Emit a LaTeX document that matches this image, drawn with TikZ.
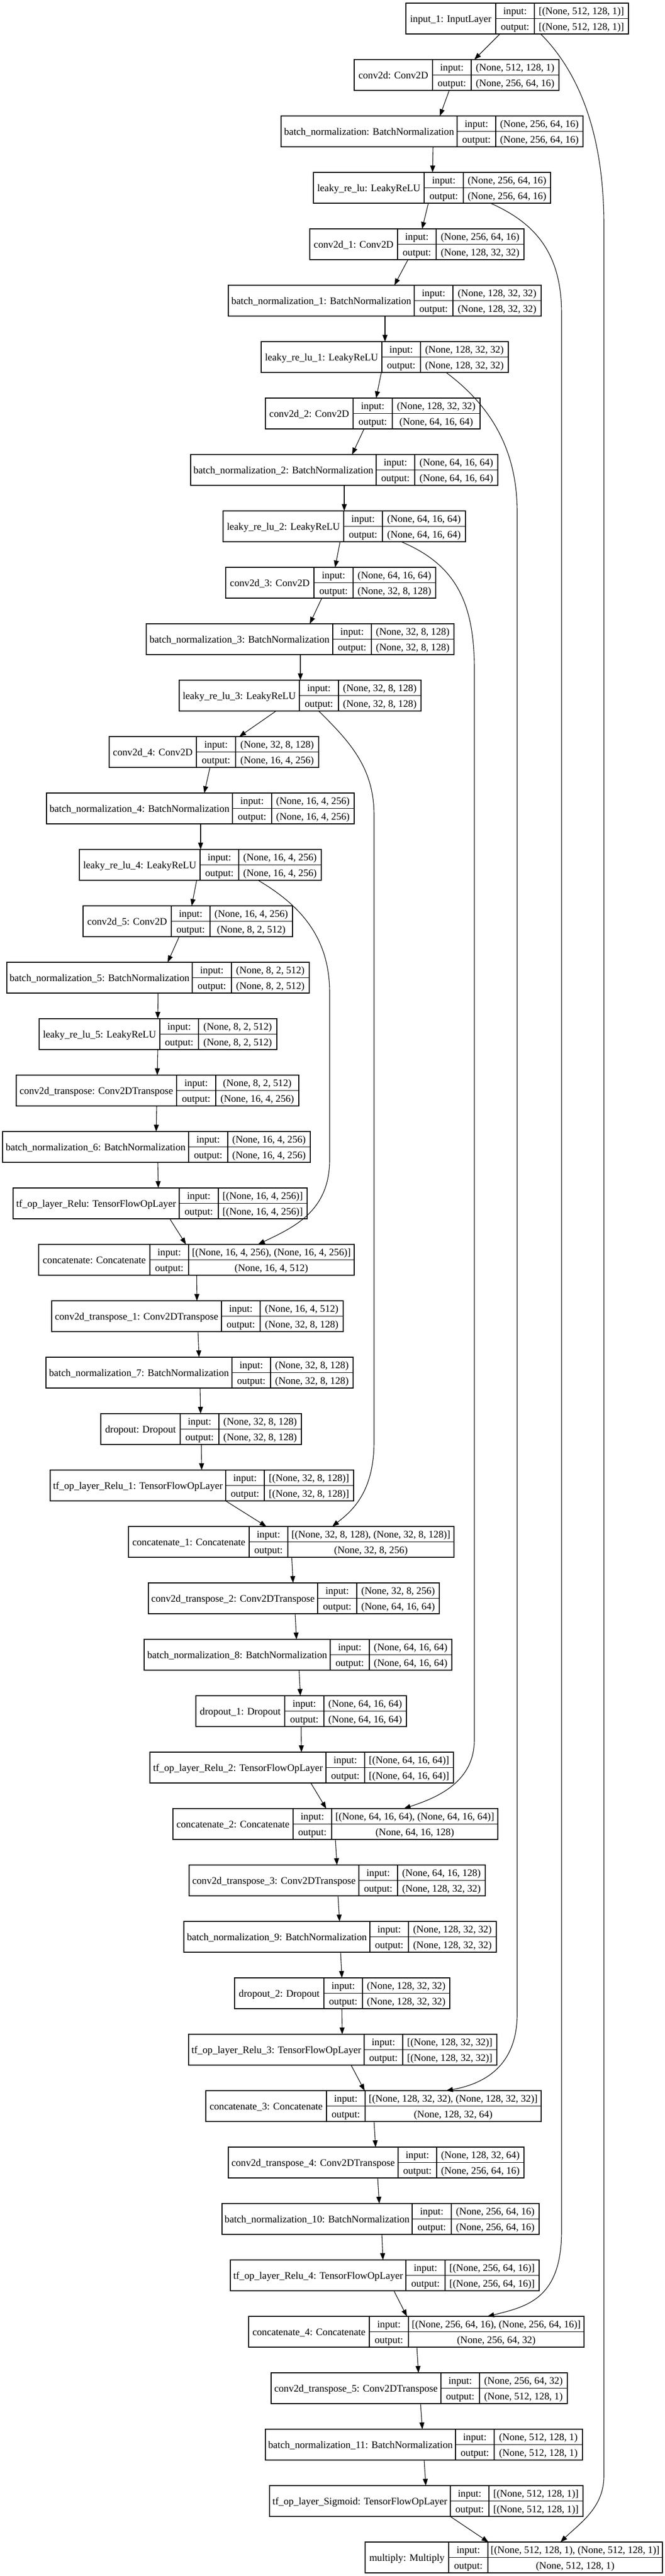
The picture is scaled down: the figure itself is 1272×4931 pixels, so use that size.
\documentclass[tikz,border=0pt]{standalone}
\usepackage{fontspec}
\setmainfont{Liberation Serif}
\usetikzlibrary{arrows.meta}
\tikzset{
  lbox/.style={draw, line width=1.3pt, inner sep=0pt, outer sep=0pt, minimum height=59pt},
  cellline/.style={line width=1.3pt},
  txt/.style={inner sep=0pt, text height=16pt, text depth=2pt, font=\fontsize{19.2}{23}\selectfont},
  arr/.style={line width=1.1pt, -{Triangle[length=13pt,width=9.5pt]}},
}
\newcommand\lyr[9]{%
  \pgfmathsetmacro\LyT{6+108*#2}%
  \pgfmathsetmacro\LyB{\LyT+59}%
  \pgfmathsetmacro\LyM{\LyT+29.5}%
  \pgfmathsetmacro\LyW{#6-#3}%
  \node[lbox, minimum width=\LyW pt, anchor=north west] (#1) at (#3,\LyT) {};
  \draw[cellline] (#4,\LyT) -- (#4,\LyB) (#5,\LyT) -- (#5,\LyB) (#4,\LyM) -- (#6,\LyM);
  \node[txt] (#1t) at ({(#3+#4)/2},\LyM) {#7};
  \node[txt] (#1a) at ({(#4+#5)/2},{\LyT+14.75}) {input:};
  \node[txt] (#1b) at ({(#4+#5)/2},{\LyT+44.25}) {output:};
  \node[txt] (#1c) at ({(#5+#6)/2},{\LyT+14.75}) {#8};
  \node[txt] (#1d) at ({(#5+#6)/2},{\LyT+44.25}) {#9};
}
\newcommand\edg[4]{\draw[arr] (#2,0 |- #1.south) -- (#4,0 |- #3.north);}
\begin{document}
\begin{tikzpicture}[x=1pt,y=-1pt]
\useasboundingbox[fill=white] (0,0) rectangle (1272,4931);
\lyr{n0}{0}{777}{949}{1023}{1203}{input\_1: InputLayer}{[(None, 512, 128, 1)]}{[(None, 512, 128, 1)]}
\lyr{n1}{1}{678}{828}{902}{1070}{conv2d: Conv2D}{(None, 512, 128, 1)}{(None, 256, 64, 16)}
\lyr{n2}{2}{538}{875}{949}{1116}{batch\_normalization: BatchNormalization}{(None, 256, 64, 16)}{(None, 256, 64, 16)}
\lyr{n3}{3}{600}{812}{887}{1054}{leaky\_re\_lu: LeakyReLU}{(None, 256, 64, 16)}{(None, 256, 64, 16)}
\lyr{n4}{4}{593}{761}{835}{1003}{conv2d\_1: Conv2D}{(None, 256, 64, 16)}{(None, 128, 32, 32)}
\lyr{n5}{5}{437}{793}{867}{1036}{batch\_normalization\_1: BatchNormalization}{(None, 128, 32, 32)}{(None, 128, 32, 32)}
\lyr{n6}{6}{500}{731}{805}{973}{leaky\_re\_lu\_1: LeakyReLU}{(None, 128, 32, 32)}{(None, 128, 32, 32)}
\lyr{n7}{7}{508}{676}{751}{919}{conv2d\_2: Conv2D}{(None, 128, 32, 32)}{(None, 64, 16, 64)}
\lyr{n8}{8}{365}{720}{794}{953}{batch\_normalization\_2: BatchNormalization}{(None, 64, 16, 64)}{(None, 64, 16, 64)}
\lyr{n9}{9}{427}{658}{732}{891}{leaky\_re\_lu\_2: LeakyReLU}{(None, 64, 16, 64)}{(None, 64, 16, 64)}
\lyr{n10}{10}{432}{601}{676}{834}{conv2d\_3: Conv2D}{(None, 64, 16, 64)}{(None, 32, 8, 128)}
\lyr{n11}{11}{280}{637}{711}{869}{batch\_normalization\_3: BatchNormalization}{(None, 32, 8, 128)}{(None, 32, 8, 128)}
\lyr{n12}{12}{343}{573}{648}{806}{leaky\_re\_lu\_3: LeakyReLU}{(None, 32, 8, 128)}{(None, 32, 8, 128)}
\lyr{n13}{13}{209}{376}{451}{610}{conv2d\_4: Conv2D}{(None, 32, 8, 128)}{(None, 16, 4, 256)}
\lyr{n14}{14}{89}{445}{520}{678}{batch\_normalization\_4: BatchNormalization}{(None, 16, 4, 256)}{(None, 16, 4, 256)}
\lyr{n15}{15}{152}{383}{457}{615}{leaky\_re\_lu\_4: LeakyReLU}{(None, 16, 4, 256)}{(None, 16, 4, 256)}
\lyr{n16}{16}{159}{328}{402}{560}{conv2d\_5: Conv2D}{(None, 16, 4, 256)}{(None, 8, 2, 512)}
\lyr{n17}{17}{13}{368}{443}{592}{batch\_normalization\_5: BatchNormalization}{(None, 8, 2, 512)}{(None, 8, 2, 512)}
\lyr{n18}{18}{75}{306}{380}{530}{leaky\_re\_lu\_5: LeakyReLU}{(None, 8, 2, 512)}{(None, 8, 2, 512)}
\lyr{n19}{19}{31}{338}{413}{572}{conv2d\_transpose: Conv2DTranspose}{(None, 8, 2, 512)}{(None, 16, 4, 256)}
\lyr{n20}{20}{5}{361}{436}{594}{batch\_normalization\_6: BatchNormalization}{(None, 16, 4, 256)}{(None, 16, 4, 256)}
\lyr{n21}{21}{25}{343}{418}{588}{tf\_op\_layer\_Relu: TensorFlowOpLayer}{[(None, 16, 4, 256)]}{[(None, 16, 4, 256)]}
\lyr{n22}{22}{74}{287}{361}{678}{concatenate: Concatenate}{[(None, 16, 4, 256), (None, 16, 4, 256)]}{(None, 16, 4, 512)}
\lyr{n23}{23}{99}{424}{498}{657}{conv2d\_transpose\_1: Conv2DTranspose}{(None, 16, 4, 512)}{(None, 32, 8, 128)}
\lyr{n24}{24}{88}{444}{518}{676}{batch\_normalization\_7: BatchNormalization}{(None, 32, 8, 128)}{(None, 32, 8, 128)}
\lyr{n25}{25}{193}{345}{419}{577}{dropout: Dropout}{(None, 32, 8, 128)}{(None, 32, 8, 128)}
\lyr{n26}{26}{96}{432}{506}{677}{tf\_op\_layer\_Relu\_1: TensorFlowOpLayer}{[(None, 32, 8, 128)]}{[(None, 32, 8, 128)]}
\lyr{n27}{27}{246}{477}{551}{869}{concatenate\_1: Concatenate}{[(None, 32, 8, 128), (None, 32, 8, 128)]}{(None, 32, 8, 256)}
\lyr{n28}{28}{284}{608}{683}{841}{conv2d\_transpose\_2: Conv2DTranspose}{(None, 32, 8, 256)}{(None, 64, 16, 64)}
\lyr{n29}{29}{276}{632}{707}{865}{batch\_normalization\_8: BatchNormalization}{(None, 64, 16, 64)}{(None, 64, 16, 64)}
\lyr{n30}{30}{375}{545}{620}{778}{dropout\_1: Dropout}{(None, 64, 16, 64)}{(None, 64, 16, 64)}
\lyr{n31}{31}{287}{624}{698}{868}{tf\_op\_layer\_Relu\_2: TensorFlowOpLayer}{[(None, 64, 16, 64)]}{[(None, 64, 16, 64)]}
\lyr{n32}{32}{331}{561}{635}{953}{concatenate\_2: Concatenate}{[(None, 64, 16, 64), (None, 64, 16, 64)]}{(None, 64, 16, 128)}
\lyr{n33}{33}{362}{687}{761}{929}{conv2d\_transpose\_3: Conv2DTranspose}{(None, 64, 16, 128)}{(None, 128, 32, 32)}
\lyr{n34}{34}{352}{708}{782}{950}{batch\_normalization\_9: BatchNormalization}{(None, 128, 32, 32)}{(None, 128, 32, 32)}
\lyr{n35}{35}{449}{620}{694}{861}{dropout\_2: Dropout}{(None, 128, 32, 32)}{(None, 128, 32, 32)}
\lyr{n36}{36}{361}{697}{771}{951}{tf\_op\_layer\_Relu\_3: TensorFlowOpLayer}{[(None, 128, 32, 32)]}{[(None, 128, 32, 32)]}
\lyr{n37}{37}{394}{625}{699}{1036}{concatenate\_3: Concatenate}{[(None, 128, 32, 32), (None, 128, 32, 32)]}{(None, 128, 32, 64)}
\lyr{n38}{38}{437}{762}{836}{1003}{conv2d\_transpose\_4: Conv2DTranspose}{(None, 128, 32, 64)}{(None, 256, 64, 16)}
\lyr{n39}{39}{425}{789}{864}{1032}{batch\_normalization\_10: BatchNormalization}{(None, 256, 64, 16)}{(None, 256, 64, 16)}
\lyr{n40}{40}{441}{777}{852}{1032}{tf\_op\_layer\_Relu\_4: TensorFlowOpLayer}{[(None, 256, 64, 16)]}{[(None, 256, 64, 16)]}
\lyr{n41}{41}{476}{707}{782}{1118}{concatenate\_4: Concatenate}{[(None, 256, 64, 16), (None, 256, 64, 16)]}{(None, 256, 64, 32)}
\lyr{n42}{42}{519}{844}{918}{1086}{conv2d\_transpose\_5: Conv2DTranspose}{(None, 256, 64, 32)}{(None, 512, 128, 1)}
\lyr{n43}{43}{508}{872}{946}{1115}{batch\_normalization\_11: BatchNormalization}{(None, 512, 128, 1)}{(None, 512, 128, 1)}
\lyr{n44}{44}{516}{862}{936}{1116}{tf\_op\_layer\_Sigmoid: TensorFlowOpLayer}{[(None, 512, 128, 1)]}{[(None, 512, 128, 1)]}
\lyr{n45}{45}{699}{859}{934}{1268}{multiply: Multiply}{[(None, 512, 128, 1), (None, 512, 128, 1)]}{(None, 512, 128, 1)}
% main chain
\edg{n0}{957}{n1}{908}
\edg{n1}{860}{n2}{842}
\edg{n2}{829}{n3}{828}
\edg{n3}{820}{n4}{808}
\edg{n4}{781}{n5}{755}
\edg{n5}{737}{n6}{737}
\edg{n6}{730}{n7}{720}
\edg{n7}{697}{n8}{674}
\edg{n8}{659}{n9}{659}
\edg{n9}{651}{n10}{641.5}
\edg{n10}{616}{n11}{593}
\edg{n11}{575}{n12}{575}
\edg{n12}{528.5}{n13}{458}
\edg{n13}{402}{n14}{391}
\edg{n14}{384}{n15}{384}
\edg{n15}{376.5}{n16}{367}
\edg{n16}{343}{n17}{321}
\edg{n17}{302.5}{n18}{302}
\edg{n18}{302}{n19}{301}
\edg{n19}{300}{n20}{299}
\edg{n20}{302}{n21}{303}
\edg{n21}{325}{n22}{356}
\edg{n22}{376.5}{n23}{377}
\edg{n23}{379}{n24}{381}
\edg{n24}{383}{n25}{384}
\edg{n25}{385.5}{n26}{386}
\edg{n26}{432}{n27}{510}
\edg{n27}{558.5}{n28}{561}
\edg{n28}{565}{n29}{567.5}
\edg{n29}{572.5}{n30}{575}
\edg{n30}{576.5}{n31}{577}
\edg{n31}{595}{n32}{624.5}
\edg{n32}{642}{n33}{645}
\edg{n33}{647}{n34}{650}
\edg{n34}{652}{n35}{654.5}
\edg{n35}{654.5}{n36}{655}
\edg{n36}{672}{n37}{698}
\edg{n37}{716}{n38}{719}
\edg{n38}{723}{n39}{726}
\edg{n39}{731}{n40}{733}
\edg{n40}{754}{n41}{779}
\edg{n41}{798}{n42}{801}
\edg{n42}{805}{n43}{808.5}
\edg{n43}{812}{n44}{815}
\edg{n44}{862}{n45}{935}
% skip connections
\draw[arr] (1035,0 |- n0.south) .. controls (1110,140) and (1156,260) .. (1156,430) -- (1156,4740) .. controls (1156,4800) and (1110,4830) .. (1073,0 |- n45.north);
\draw[arr] (939,0 |- n3.south) .. controls (1020,425) and (1075,480) .. (1075,600) -- (1075,4267) .. controls (1076,4400) and (1010,4415) .. (933,0 |- n41.north);
\draw[arr] (854,0 |- n6.south) .. controls (930,770) and (990,850) .. (990,980) -- (990,3850) .. controls (992,3960) and (920,3990) .. (854,0 |- n37.north);
\draw[arr] (768,0 |- n9.south) .. controls (870,1080) and (908,1150) .. (908,1280) -- (908,3330) .. controls (908,3410) and (840,3440) .. (773,0 |- n32.north);
\draw[arr] (610,0 |- n12.south) .. controls (670,1420) and (716,1470) .. (716,1560) -- (716,2760) .. controls (716,2860) and (670,2895) .. (636,0 |- n27.north);
\draw[arr] (494,0 |- n15.south) .. controls (570,1730) and (631,1790) .. (631,1900) -- (631,2220) .. controls (631,2320) and (560,2350) .. (494,0 |- n22.north);
\end{tikzpicture}
\end{document}
